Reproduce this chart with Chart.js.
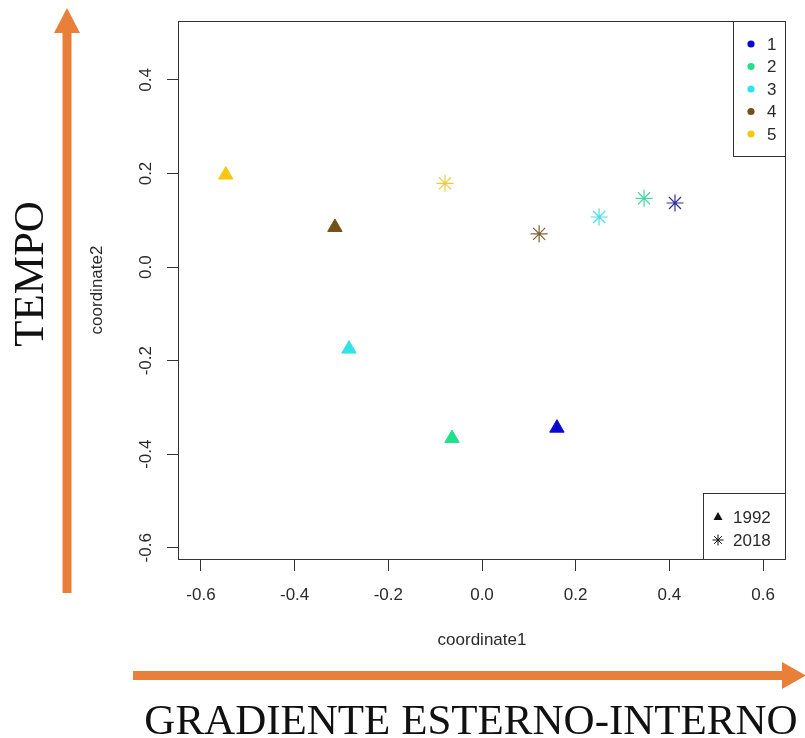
<!DOCTYPE html>
<html>
<head>
<meta charset="utf-8">
<script src="https://cdn.jsdelivr.net/npm/chart.js@4.4.1/dist/chart.umd.min.js"></script>
<style>
  html, body { margin: 0; padding: 0; background: #fff; }
  #wrap { width: 805px; height: 738px; }
</style>
</head>
<body>
<div id="wrap"><canvas id="chart" width="805" height="738"></canvas></div>
<script>
// groups and colours
const groups = ['1', '2', '3', '4', '5'];
const groupColors = ['#0A0ACD', '#20E08A', '#30E3E6', '#735219', '#F4C810'];
const starColors = ['#33339A', '#45D6A0', '#50DDE6', '#7E6332', '#EBCB45'];
const years = ['1992', '2018'];

// coordinates (group 1..5)
const x1992 = [0.160, -0.064, -0.284, -0.314, -0.547];
const y1992 = [-0.344, -0.366, -0.175, 0.085, 0.197];
const x2018 = [0.412, 0.346, 0.250, 0.122, -0.079];
const y2018 = [0.137, 0.147, 0.107, 0.071, 0.179];

// axes
const xTicks = [-0.6, -0.4, -0.2, 0.0, 0.2, 0.4, 0.6];
const yTicks = [-0.6, -0.4, -0.2, 0.0, 0.2, 0.4];
const xRange = [-0.649, 0.649];
const yRange = [-0.624, 0.526];

const orange = '#E8803A';
const ink = '#2a2a2a';

function toPoints(xs, ys) {
    return xs.map(function (x, i) { return { x: x, y: ys[i] }; });
}

// box, rotated y labels, legends and the orange arrows
const decorPlugin = {
    id: 'decor',
    afterDraw(chart) {
        const ctx = chart.ctx;
        const area = chart.chartArea;
        const yScale = chart.scales.y;

        ctx.save();
        // plot box
        ctx.strokeStyle = '#333';
        ctx.lineWidth = 1;
        ctx.strokeRect(area.left + 0.5, area.top + 0.5, area.right - area.left - 1, area.bottom - area.top);

        // y tick labels, turned like in R
        ctx.fillStyle = ink;
        ctx.font = '17px "Liberation Sans", Arial, sans-serif';
        ctx.textAlign = 'center';
        ctx.textBaseline = 'alphabetic';
        yTicks.forEach(function (v) {
            const py = yScale.getPixelForValue(v);
            ctx.save();
            ctx.translate(151, py);
            ctx.rotate(-Math.PI / 2);
            ctx.fillText(v.toFixed(1), 0, 0);
            ctx.restore();
        });

        // legend of groups
        const l1 = { left: 733, top: area.top, right: area.right, bottom: 156 };
        ctx.strokeRect(l1.left + 0.5, l1.top + 0.5, l1.right - l1.left - 1, l1.bottom - l1.top);
        ctx.textAlign = 'left';
        ctx.textBaseline = 'middle';
        groups.forEach(function (g, i) {
            const ry = 44 + i * 22.5;
            ctx.fillStyle = groupColors[i];
            ctx.beginPath();
            ctx.arc(751, ry, 3.6, 0, Math.PI * 2);
            ctx.fill();
            ctx.fillStyle = ink;
            ctx.fillText(g, 767, ry + 1);
        });

        // legend of years
        const l2 = { left: 703, top: 493, right: area.right, bottom: area.bottom };
        ctx.strokeRect(l2.left + 0.5, l2.top + 0.5, l2.right - l2.left - 1, l2.bottom - l2.top);
        const r1 = 517, r2 = 540, mx = 718;
        ctx.fillStyle = '#111';
        ctx.beginPath();
        ctx.moveTo(mx, r1 - 5);
        ctx.lineTo(mx + 4.5, r1 + 3);
        ctx.lineTo(mx - 4.5, r1 + 3);
        ctx.closePath();
        ctx.fill();
        ctx.strokeStyle = '#111';
        ctx.lineWidth = 1;
        ctx.beginPath();
        for (let a = 0; a < 4; a++) {
            const ang = a * Math.PI / 4;
            ctx.moveTo(mx - Math.cos(ang) * 5.5, r2 - Math.sin(ang) * 5.5);
            ctx.lineTo(mx + Math.cos(ang) * 5.5, r2 + Math.sin(ang) * 5.5);
        }
        ctx.stroke();
        ctx.fillStyle = ink;
        ctx.fillText(years[0], 733, r1 + 1);
        ctx.fillText(years[1], 733, r2 + 1);

        // orange arrows
        ctx.fillStyle = orange;
        ctx.fillRect(62.5, 32, 9, 561);
        ctx.beginPath();
        ctx.moveTo(54, 33);
        ctx.lineTo(80, 33);
        ctx.lineTo(67, 8);
        ctx.closePath();
        ctx.fill();

        ctx.fillRect(133, 671, 652, 9);
        ctx.beginPath();
        ctx.moveTo(782, 662);
        ctx.lineTo(782, 689);
        ctx.lineTo(806, 675.5);
        ctx.closePath();
        ctx.fill();

        // big captions
        ctx.fillStyle = '#111';
        ctx.font = '43px "Liberation Serif", "Times New Roman", serif';
        ctx.textAlign = 'center';
        ctx.textBaseline = 'alphabetic';
        ctx.fillText('GRADIENTE ESTERNO-INTERNO', 471, 734);
        ctx.save();
        ctx.translate(43, 274);
        ctx.rotate(-Math.PI / 2);
        ctx.fillText('TEMPO', 0, 0);
        ctx.restore();

        ctx.restore();
    }
};

const data = {
    datasets: [
        {
            label: years[0],
            data: toPoints(x1992, y1992),
            pointStyle: 'triangle',
            pointRadius: 8.3,
            pointBackgroundColor: groupColors,
            pointBorderColor: groupColors,
            pointBorderWidth: 1,
            showLine: false
        },
        {
            label: years[1],
            data: toPoints(x2018, y2018),
            pointStyle: 'star',
            pointRadius: 8.5,
            pointBackgroundColor: starColors,
            pointBorderColor: starColors,
            pointBorderWidth: 1.2,
            showLine: false
        }
    ]
};

const options = {
    responsive: false,
    animation: false,
    events: [],
    layout: { padding: { left: 0, top: 21, right: 19, bottom: 0 } },
    plugins: { legend: { display: false }, tooltip: { enabled: false } },
    scales: {
        x: {
            type: 'linear',
            min: xRange[0],
            max: xRange[1],
            afterBuildTicks: function (scale) {
                scale.ticks = xTicks.map(function (v) { return { value: v }; });
            },
            afterFit: function (scale) { scale.height = 179; },
            border: { display: false },
            grid: { drawOnChartArea: false, drawTicks: true, tickLength: 12, color: '#333', lineWidth: 1 },
            ticks: {
                color: ink,
                padding: 14,
                font: { family: '"Liberation Sans", Arial, sans-serif', size: 17 },
                maxRotation: 0,
                autoSkip: false,
                callback: function (v) { return Number(v).toFixed(1); }
            },
            title: {
                display: true,
                text: 'coordinate1',
                color: ink,
                font: { family: '"Liberation Sans", Arial, sans-serif', size: 17 },
                padding: { top: 0, bottom: 87 }
            }
        },
        y: {
            type: 'linear',
            min: yRange[0],
            max: yRange[1],
            afterBuildTicks: function (scale) {
                scale.ticks = yTicks.map(function (v) { return { value: v }; });
            },
            afterFit: function (scale) { scale.width = 178; },
            border: { display: false },
            grid: { drawOnChartArea: false, drawTicks: true, tickLength: 11, color: '#333', lineWidth: 1 },
            ticks: { display: false },
            title: {
                display: true,
                text: 'coordinate2',
                color: ink,
                font: { family: '"Liberation Sans", Arial, sans-serif', size: 17 },
                padding: { top: 87, bottom: 0 }
            }
        }
    }
};

new Chart(document.getElementById('chart').getContext('2d'), {
    type: 'scatter',
    data: data,
    options: options,
    plugins: [decorPlugin]
});
</script>
</body>
</html>
